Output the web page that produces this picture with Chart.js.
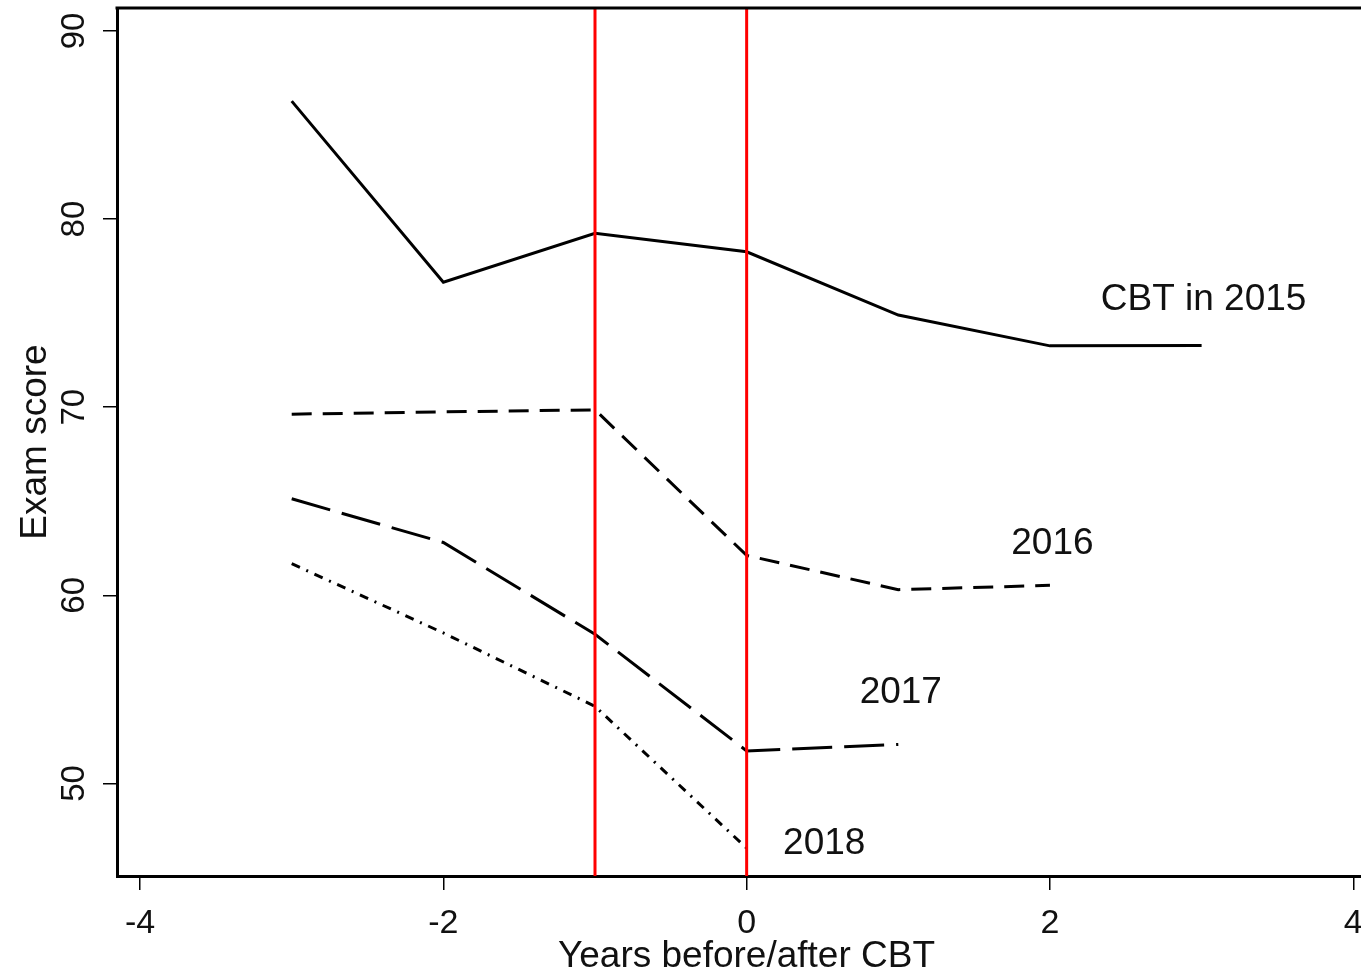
<!DOCTYPE html>
<html>
<head>
<meta charset="utf-8">
<title>Exam score by years before/after CBT</title>
<script src="https://cdn.jsdelivr.net/npm/chart.js@4.4.1/dist/chart.umd.min.js"></script>
<style>
  html, body { margin: 0; padding: 0; background: #fff; overflow: hidden; }
  #wrap { width: 1385px; height: 971px; }
  canvas { display: block; }
</style>
</head>
<body>
<div id="wrap"><canvas id="c" width="1385" height="971"></canvas></div>
<script>
// Years relative to the CBT introduction
const years = [-3, -2, -1, 0, 1, 2, 3];

// Mean exam score per cohort (by year CBT was introduced)
const cbt2015 = [86.27, 76.64, 79.24, 78.26, 74.90, 73.26, 73.28];
const cbt2016 = [69.63, 69.75, 69.86, 62.12, 60.30, 60.53];
const cbt2017 = [65.13, 62.81, 57.93, 51.73, 52.07];
const cbt2018 = [61.68, 58.00, 54.10, 46.56];

const seriesNames = ['CBT in 2015', '2016', '2017', '2018'];

// Axis ticks
const xTicks = [-4, -2, 0, 2, 4];
const yTicks = [50, 60, 70, 80, 90];

// Reference years marked with vertical red lines
const markYears = [-1, 0];

// Where each series name is written, in data units
const nameSpots = [[2.335, 75.72], [1.745, 62.75], [0.745, 54.80], [0.240, 46.80]];

const FONT = "'Liberation Sans', Arial, Helvetica, sans-serif";
const INK = '#111';

function toPoints(values) {
  return values.map((v, i) => ({ x: years[i], y: v }));
}

const styles = [
  { borderDash: [] },
  { borderDash: [20, 11] },
  { borderDash: [40, 12] },
  { borderDash: [9, 7, 2, 7] }
];

const datasets = [cbt2015, cbt2016, cbt2017, cbt2018].map((vals, i) => ({
  label: seriesNames[i],
  data: toPoints(vals),
  borderColor: '#000',
  borderWidth: 3,
  borderDash: styles[i].borderDash,
  borderCapStyle: 'butt',
  borderJoinStyle: 'miter',
  pointRadius: 0,
  tension: 0,
  fill: false
}));

const framePlugin = {
  id: 'frame',
  afterDatasetsDraw(chart) {
    const { ctx, chartArea: a, scales: { x, y } } = chart;
    ctx.save();
    // vertical markers
    ctx.strokeStyle = '#ff0000';
    ctx.lineWidth = 3;
    markYears.forEach(v => {
      const px = x.getPixelForValue(v);
      ctx.beginPath();
      ctx.moveTo(px, a.top);
      ctx.lineTo(px, a.bottom);
      ctx.stroke();
    });
    // series names
    ctx.fillStyle = INK;
    ctx.font = `37px ${FONT}`;
    ctx.textAlign = 'left';
    ctx.textBaseline = 'middle';
    nameSpots.forEach((p, i) => {
      ctx.fillText(seriesNames[i], x.getPixelForValue(p[0]), y.getPixelForValue(p[1]));
    });
    ctx.restore();
  },
  afterDraw(chart) {
    const { ctx, chartArea: a, scales: { y } } = chart;
    ctx.save();
    // top and right edges of the plot box
    ctx.strokeStyle = '#000';
    ctx.lineWidth = 3;
    ctx.beginPath();
    ctx.moveTo(a.left - 1.5, a.top);
    ctx.lineTo(a.right + 1.5, a.top);
    ctx.moveTo(a.right, a.top);
    ctx.lineTo(a.right, a.bottom);
    ctx.stroke();
    // rotated y tick labels
    ctx.fillStyle = INK;
    ctx.font = `33px ${FONT}`;
    ctx.textAlign = 'center';
    ctx.textBaseline = 'middle';
    y.ticks.forEach(t => {
      const py = y.getPixelForValue(t.value);
      ctx.save();
      ctx.translate(75, py);
      ctx.rotate(-Math.PI / 2);
      ctx.fillText(String(t.value), 0, 0);
      ctx.restore();
    });
    ctx.restore();
  }
};

new Chart(document.getElementById('c'), {
  type: 'line',
  data: { datasets },
  options: {
    responsive: false,
    animation: false,
    devicePixelRatio: 1,
    layout: { padding: { top: 8, right: 9, left: 0, bottom: 0 } },
    plugins: {
      legend: { display: false },
      tooltip: { enabled: false }
    },
    scales: {
      x: {
        type: 'linear',
        min: -4.152,
        max: 4.15,
        afterBuildTicks: s => { s.ticks = xTicks.map(v => ({ value: v })); },
        afterFit: s => { s.height = 95; },
        ticks: {
          color: INK,
          font: { family: FONT, size: 34 },
          padding: 13,
          maxRotation: 0,
          autoSkip: false
        },
        grid: {
          drawOnChartArea: false,
          drawTicks: true,
          tickLength: 14,
          color: '#000',
          lineWidth: 1.5
        },
        border: { display: true, color: '#000', width: 3 },
        title: {
          display: true,
          text: 'Years before/after CBT',
          color: INK,
          font: { family: FONT, size: 37, lineHeight: 1 },
          padding: { top: 0, bottom: -4 }
        }
      },
      y: {
        type: 'linear',
        min: 45.08,
        max: 91.22,
        afterBuildTicks: s => { s.ticks = yTicks.map(v => ({ value: v })); },
        afterFit: s => { s.width = 117; },
        ticks: { display: false },
        grid: {
          drawOnChartArea: false,
          drawTicks: true,
          tickLength: 14,
          color: '#000',
          lineWidth: 1.5
        },
        border: { display: true, color: '#000', width: 3 },
        title: {
          display: true,
          text: 'Exam score',
          color: INK,
          font: { family: FONT, size: 37, lineHeight: 1 },
          padding: { top: 17, bottom: 0 }
        }
      }
    }
  },
  plugins: [framePlugin]
});
</script>
</body>
</html>
